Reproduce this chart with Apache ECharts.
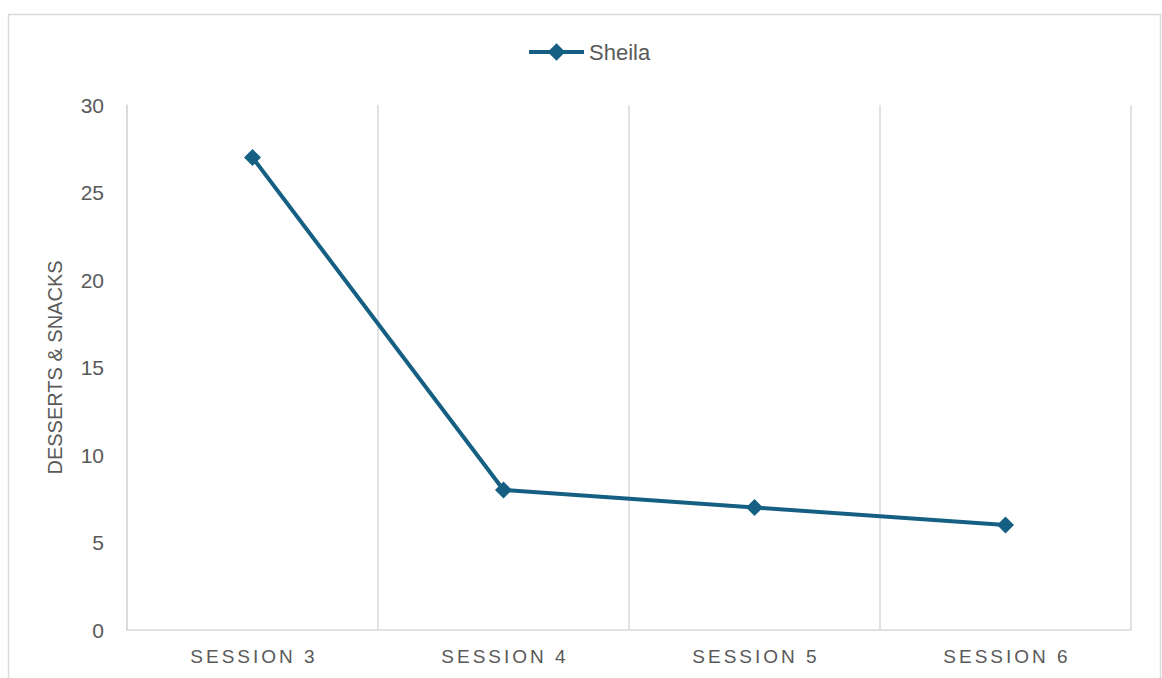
<!DOCTYPE html>
<html>
<head>
<meta charset="utf-8">
<script src="https://cdn.jsdelivr.net/npm/echarts@6/dist/echarts.min.js"></script>
<style>
  html, body { margin: 0; padding: 0; background: #ffffff; }
  #chart { width: 1162px; height: 678px; }
</style>
</head>
<body>
<div id="chart"></div>
<script>
// Sessions and counts for the line series
const sessions = ['SESSION 3', 'SESSION 4', 'SESSION 5', 'SESSION 6'];
const sheila = [27, 8, 7, 6];
const seriesName = 'Sheila';
const yAxisTitle = 'DESSERTS & SNACKS';

const ink = '#595959';
const gridGray = '#d9d9d9';
const lineBlue = '#156082';
const font = 'Liberation Sans, Arial, sans-serif';

const chart = echarts.init(document.getElementById('chart'), null, { renderer: 'svg' });

chart.setOption({
  animation: false,
  backgroundColor: '#ffffff',
  graphic: [{
    type: 'rect',
    silent: true,
    shape: { x: 8.5, y: 14.5, width: 1152, height: 720 },
    style: { fill: 'none', stroke: gridGray, lineWidth: 1.5 }
  }],
  legend: {
    top: 36,
    left: 522,
    itemWidth: 55,
    itemHeight: 22,
    itemGap: 5,
    lineStyle: { width: 4 },
    textStyle: { color: ink, fontSize: 22, fontFamily: font },
    data: [seriesName]
  },
  grid: { left: 127, right: 31, top: 105, bottom: 48 },
  xAxis: {
    type: 'category',
    data: sessions,
    boundaryGap: true,
    axisLine: { show: true, lineStyle: { color: gridGray, width: 1.5 } },
    axisTick: { show: false },
    axisLabel: { color: ink, fontSize: 19, fontFamily: font, margin: 17 },
    splitLine: { show: true, interval: 0, lineStyle: { color: gridGray, width: 1.5 } }
  },
  yAxis: {
    type: 'value',
    min: 0,
    max: 30,
    interval: 5,
    name: yAxisTitle,
    nameLocation: 'middle',
    nameGap: 62,
    nameRotate: 90,
    nameTextStyle: { color: ink, fontSize: 20, fontFamily: font },
    axisLine: { show: true, lineStyle: { color: gridGray, width: 1.5 } },
    axisTick: { show: false },
    axisLabel: { color: ink, fontSize: 21, fontFamily: font, margin: 23 },
    splitLine: { show: false }
  },
  series: [{
    name: seriesName,
    type: 'line',
    data: sheila,
    symbol: 'diamond',
    symbolSize: 17,
    lineStyle: { color: lineBlue, width: 4 },
    itemStyle: { color: lineBlue },
    emphasis: { disabled: true }
  }]
});

// Spread out the category labels along the x axis
function spaceCategoryLabels() {
  document.querySelectorAll('#chart svg text').forEach(function (t) {
    if (sessions.indexOf(t.textContent) !== -1) {
      t.setAttribute('letter-spacing', '3px');
      t.setAttribute('dx', '1.5');
    }
  });
}
chart.on('finished', spaceCategoryLabels);
spaceCategoryLabels();
</script>
</body>
</html>
